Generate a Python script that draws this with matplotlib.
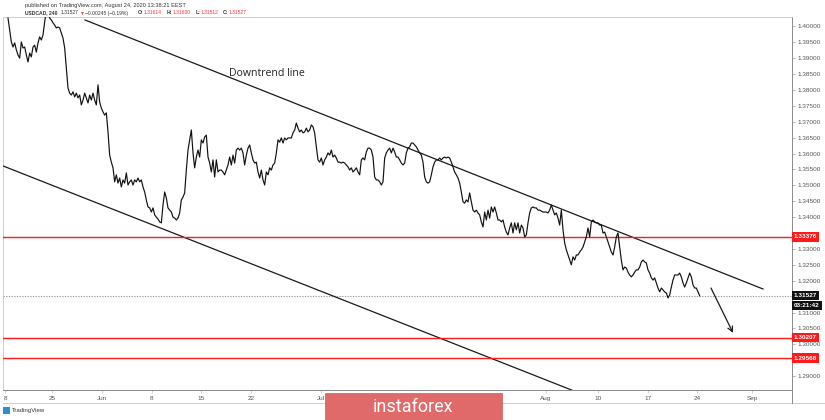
import numpy as np
import matplotlib
matplotlib.use("Agg")
import matplotlib.pyplot as plt
from matplotlib import transforms
from matplotlib.patches import Rectangle

# ---------------- data (USDCAD, 4h closes) ----------------
close_a = [1.4026,1.3989,1.3951,1.3935,1.3948,1.3926,1.3910,1.3900,1.3951,1.3932,
           1.3935,1.3910,1.3888,1.3916,1.3904,1.3935,1.3941,1.3919,1.3948,1.3967,
           1.3957,1.3973,1.4014,1.4051,1.4045,1.4026,1.4020,1.4011,1.4004,1.3995,
           1.3998,1.3995,1.3979,1.3963,1.3932,1.3869,1.3806,1.3790,1.3784,1.3794,
           1.3778,1.3790,1.3775,1.3784,1.3753,1.3768,1.3790,1.3775,1.3759,1.3784,
           1.3768,1.3790,1.3768,1.3753,1.3816,1.3762,1.3743,1.3731,1.3721,1.3728,
           1.3668,1.3595,1.3573,1.3555,1.3511,1.3533,1.3507,1.3523,1.3495,1.3517,
           1.3507,1.3539,1.3501,1.3511,1.3517,1.3501,1.3517,1.3511,1.3523,1.3511,
           1.3517,1.3495,1.3479,1.3454,1.3432,1.3429,1.3416,1.3429,1.3407,1.3400,
           1.3394,1.3385,1.3382,1.3438,1.3479,1.3460,1.3429,1.3422,1.3416,1.3400,
           1.3397,1.3391,1.3397,1.3413]
close_b = [1.3454,1.3463,1.3476,1.3548,1.3611,1.3643,1.3674,1.3602,1.3555,1.3589,
           1.3611,1.3589,1.3643,1.3633,1.3652,1.3658,1.3589,1.3570,1.3542,1.3580,
           1.3526,1.3580,1.3542,1.3548,1.3548,1.3542,1.3533,1.3548,1.3564,1.3589,
           1.3564,1.3595,1.3570,1.3611,1.3617,1.3611,1.3617,1.3602,1.3564,1.3595,
           1.3617,1.3627,1.3602,1.3580,1.3570,1.3573,1.3542,1.3523,1.3548,1.3517,
           1.3501,1.3542,1.3533,1.3555,1.3548,1.3564,1.3570,1.3602,1.3643,1.3636,
           1.3649,1.3633,1.3649,1.3643,1.3649,1.3649,1.3649,1.3665,1.3674,1.3696,
           1.3680,1.3668,1.3674,1.3665,1.3668,1.3680,1.3668,1.3674,1.3690,1.3684,
           1.3665,1.3621,1.3580,1.3573,1.3586,1.3564,1.3580,1.3589,1.3602,1.3595,
           1.3611,1.3589,1.3595,1.3586,1.3573,1.3573,1.3570,1.3573,1.3570,1.3564,
           1.3558,1.3548,1.3555,1.3542,1.3548,1.3555,1.3542,1.3533,1.3580,1.3586,
           1.3580,1.3605,1.3617,1.3617,1.3611,1.3589,1.3526,1.3517,1.3517,1.3511,
           1.3501,1.3511,1.3586,1.3602,1.3611,1.3617,1.3602,1.3617,1.3605,1.3589]
close_c = [1.3589,1.3580,1.3570,1.3564,1.3570,1.3602,1.3617,1.3621,1.3633,1.3633,
           1.3627,1.3621,1.3611,1.3602,1.3595,1.3573,1.3526,1.3511,1.3507,1.3511,
           1.3533,1.3558,1.3573,1.3580,1.3580,1.3586,1.3580,1.3586,1.3589,1.3586,
           1.3589,1.3586,1.3573,1.3558,1.3542,1.3533,1.3523,1.3507,1.3479,1.3448,
           1.3444,1.3454,1.3448,1.3476,1.3448,1.3422,1.3416,1.3422,1.3413,1.3407,
           1.3385,1.3369,1.3416,1.3391,1.3422,1.3397,1.3432,1.3416,1.3432,1.3413,
           1.3391,1.3391,1.3385,1.3391,1.3369,1.3353,1.3344,1.3366,1.3382,1.3350,
           1.3382,1.3360,1.3382,1.3350,1.3375,1.3366,1.3338,1.3344,1.3382,1.3413,
           1.3429,1.3432,1.3429,1.3429,1.3422,1.3422,1.3419,1.3416,1.3416,1.3416,
           1.3413,1.3422,1.3438,1.3422,1.3407,1.3413,1.3397,1.3375,1.3422,1.3360,
           1.3319,1.3297,1.3281,1.3265,1.3250,1.3275,1.3265,1.3281,1.3281,1.3290,
           1.3297,1.3306,1.3322,1.3338,1.3366,1.3338,1.3385,1.3391,1.3385]
close_d = [1.3382,1.3382,1.3375,1.3375,1.3350,1.3353,1.3338,1.3322,1.3306,1.3290,
           1.3281,1.3306,1.3338,1.3350,1.3306,1.3265,1.3234,1.3243,1.3240,1.3227,
           1.3218,1.3212,1.3218,1.3227,1.3234,1.3234,1.3243,1.3259,1.3265,1.3259,
           1.3256,1.3234,1.3224,1.3209,1.3202,1.3209,1.3193,1.3177,1.3165,1.3177,
           1.3171,1.3165,1.3161,1.3146,1.3155,1.3180,1.3202,1.3218,1.3218,1.3218,
           1.3224,1.3212,1.3193,1.3180,1.3193,1.3209,1.3224,1.3212,1.3187,1.3177,
           1.3177,1.3165,1.31527]
close = close_a + close_b + close_c + close_d
bars = np.arange(len(close))

# time axis labels (position in bar units)
tick_pos = [-1.8, 26.6, 56.4, 86.2, 116.0, 145.9, 187.8, 322.8, 354.0, 384.0, 413.4, 446.4]
tick_lab = ["8", "25", "Jun", "8", "15", "22", "Jul", "Aug", "10", "17", "24", "Sep"]

# drawn lines
trend_x = [46.2, 453.0]
trend_y = [1.4020, 1.3174]
chan_x = [-3.0, 355.2]
chan_y = [1.3561, 1.2821]
levels = [1.33376, 1.30207, 1.29568]
last_price = 1.31527
countdown = "03:21:42"
arrow_from = (421.8, 1.3177)
arrow_to = (435.0, 1.3036)
label_pos = (155.4, 1.3853)
price_ticks = np.round(np.arange(1.29, 1.40001, 0.005), 3)

# ---------------- figure ----------------
W, H = 825, 420
fig = plt.figure(figsize=(W / 100, H / 100), dpi=100)
fig.patch.set_facecolor("white")
SMALL = ["Liberation Sans", "DejaVu Sans"]

def fx(px):
    return px / W

def fy(py):
    return 1 - py / H

ax = fig.add_axes([fx(3), fy(390), fx(792) - fx(3), fy(17) - fy(390)])
ax.set_xlim(-3.0, 470.4)
ax.set_ylim(1.28563, 1.40294)

ax.plot(bars, close, color="#111111", lw=0.85, zorder=4, solid_joinstyle="round")
ax.plot(trend_x, trend_y, color="#1a1a1a", lw=0.9, zorder=3)
ax.plot(chan_x, chan_y, color="#1a1a1a", lw=0.9, zorder=3)
for lv in levels:
    ax.axhline(lv, color="#ff1a1a", lw=1.0, zorder=3)
ax.axhline(last_price, color="#9a9a9a", lw=0.8, ls=(0, (1.2, 1.2)), zorder=2)
ax.annotate("", xy=arrow_to, xytext=arrow_from,
            arrowprops=dict(arrowstyle="->", color="#1a1a1a", lw=0.9,
                            mutation_scale=9, shrinkA=0, shrinkB=0), zorder=5)
ax.text(label_pos[0], label_pos[1], "Downtrend line", fontsize=7.6,
        family=["Open Sans", "DejaVu Sans"], color="#222222", ha="center", va="center")

# axes styling
tag_values = levels + [last_price]
ax.set_xticks(tick_pos)
ax.set_xticklabels(tick_lab)
ax.yaxis.tick_right()
ax.set_yticks(price_ticks)
ylabels = []
for v in price_ticks:
    hidden = any(abs(v - t) * 3180 < 5.5 for t in tag_values)
    ylabels.append("" if hidden else f"{v:.5f}")
ax.set_yticklabels(ylabels)
ax.tick_params(axis="y", length=2, width=0.5, color="#999999", pad=2,
               labelsize=4.6, labelcolor="#555555")
ax.tick_params(axis="x", length=2, width=0.5, color="#bbbbbb", pad=2.5,
               labelsize=4.6, labelcolor="#555555")
for lab in ax.get_xticklabels() + ax.get_yticklabels():
    lab.set_family(SMALL)
for s in ["top", "left"]:
    ax.spines[s].set_color("#c8c8c8")
    ax.spines[s].set_linewidth(0.6)
ax.spines["right"].set_color("#8a8a8a")
ax.spines["right"].set_linewidth(0.7)
ax.spines["bottom"].set_color("#8a8a8a")
ax.spines["bottom"].set_linewidth(0.7)

# price-scale tags
btr = transforms.blended_transform_factory(fig.transFigure, ax.transData)
def tag(val, text, face, dy_px=0.0):
    off = transforms.ScaledTranslation(0, -dy_px / 100, fig.dpi_scale_trans)
    fig.text(fx(794), val, text, transform=btr + off, fontsize=4.6, family=SMALL,
             color="white", fontweight="bold", ha="left", va="center", zorder=10,
             bbox=dict(boxstyle="square,pad=0.35", fc=face, ec=face, lw=0))

for lv in levels:
    tag(lv, f"{lv:.5f}", "#ff1a1a")
tag(last_price, f"{last_price:.5f}", "#111111")
tag(last_price, countdown, "#111111", dy_px=10)

# bottom line of time scale and outer borders
fig.add_artist(plt.Line2D([fx(3), fx(825)], [fy(403), fy(403)], color="#c8c8c8", lw=0.6))
fig.add_artist(plt.Line2D([fx(792), fx(792)], [fy(390), fy(403)], color="#8a8a8a", lw=0.7))

# header
red = "#f23645"
dark = "#333333"
fig.text(fx(25), fy(5.5), "published on TradingView.com, August 24, 2020 13:38:21 EEST",
         fontsize=4.1, color=dark, family=SMALL, ha="left", va="center")
header = [(25, "USDCAD, 240", dark, "bold"), (61, "1.31527", dark, "normal"),
          (80, "\u25bc", red, "normal"), (85, "\u22120.00245 (\u22120.19%)", dark, "normal"),
          (138, "O:", dark, "bold"), (143.5, "1.31614", red, "normal"),
          (167, "H:", dark, "bold"), (172.5, "1.31630", red, "normal"),
          (196, "L:", dark, "bold"), (200.5, "1.31512", red, "normal"),
          (223, "C:", dark, "bold"), (228.5, "1.31527", red, "normal")]
for xp, txt, col, wt in header:
    fig.text(fx(xp), fy(13), txt, fontsize=3.6, color=col, fontweight=wt,
             family=SMALL, ha="left", va="center")

# TradingView footer
fig.add_artist(Rectangle((fx(3), fy(414)), fx(7), 7 / H, transform=fig.transFigure,
                         fc="#2a8fd8", ec="none"))
fig.text(fx(12), fy(410.5), "TradingView", fontsize=4.3, family=SMALL, color="#333333",
         ha="left", va="center")

# instaforex badge
fig.add_artist(Rectangle((fx(325), 0), fx(502) - fx(325), 27 / H, transform=fig.transFigure,
                         fc="#e06a6a", ec="#d45a5a", lw=0.5, zorder=20))
fig.text(fx(413), fy(406.5), "instaforex", fontsize=13, family=["Roboto", "DejaVu Sans"],
         color="white", ha="center", va="center", zorder=21)

fig.savefig("out.png", dpi=100)
